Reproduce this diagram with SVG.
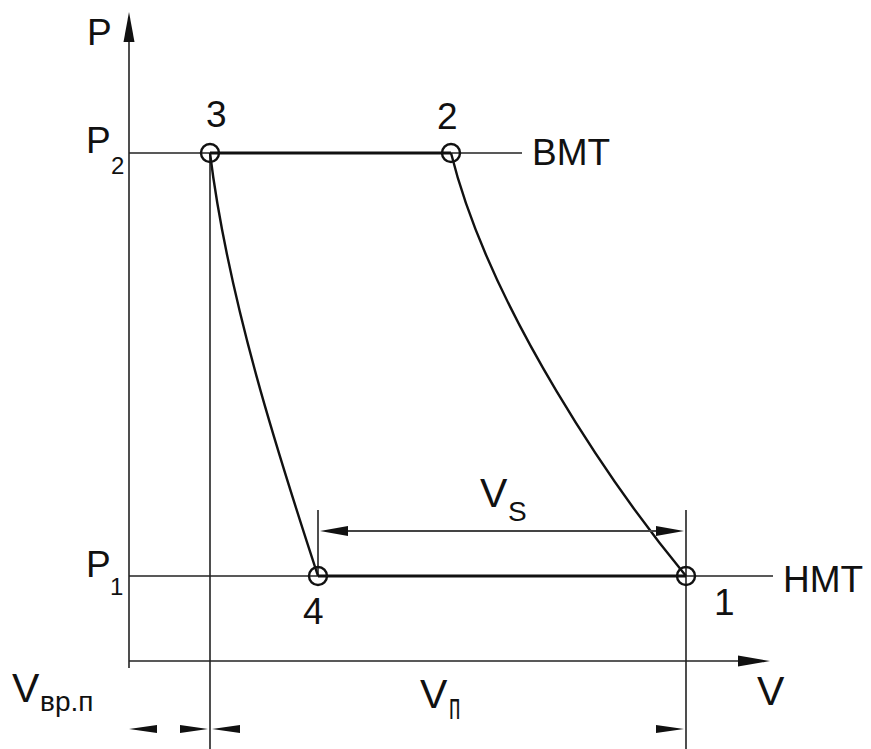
<svg xmlns="http://www.w3.org/2000/svg" width="871" height="749" viewBox="0 0 871 749">
<style>
text{font-family:"Liberation Sans",Arial,sans-serif;fill:#111}
.big{font-size:37px}
.v{font-size:41px}
.sub{font-size:24px}
.thin{stroke:#222;stroke-width:1.6;fill:none}
.thick{stroke:#111;stroke-width:3;fill:none}
.curve{stroke:#111;stroke-width:2.4;fill:none}
.pt{stroke:#111;stroke-width:2.4;fill:none}
.ah{fill:#111}
</style>
<rect width="871" height="749" fill="#fff"/>
<g id="axes">
<line class="thin" x1="129" y1="30" x2="129" y2="668"/>
<polygon class="ah" points="129,12 123.5,42 134.5,42"/>
<line class="thin" x1="129" y1="661" x2="752" y2="661"/>
<polygon class="ah" points="770,661 738,655.5 738,666.5"/>
<text class="big" x="87" y="45">P</text>
<text class="v" x="757" y="705">V</text>
</g>
<g id="levels">
<line class="thin" x1="129" y1="153" x2="522" y2="153"/>
<line class="thin" x1="129" y1="576" x2="773" y2="576"/>
<line class="thin" x1="210" y1="153" x2="210" y2="749"/>
<line class="thin" x1="318" y1="510" x2="318" y2="576"/>
<line class="thin" x1="686" y1="510" x2="686" y2="749"/>
<text class="big" x="86" y="153">P</text><text class="sub" x="111" y="174">2</text>
<text class="big" x="86" y="577">P</text><text class="sub" x="110" y="595">1</text>
<text class="big" x="532" y="165">BMT</text>
<text class="big" x="783" y="592">HMT</text>
</g>
<g id="connectors">
<line class="thick" x1="210" y1="153" x2="451" y2="153"/>
<line class="thick" x1="318" y1="576" x2="686" y2="576"/>
<path class="curve" d="M210,153 C228,300 280,460 318,576"/>
<path class="curve" d="M451,153 C490,310 615,490 686,576"/>
</g>
<g id="point-3"><circle class="pt" cx="210" cy="153" r="9"/><text class="big" x="206" y="127">3</text></g>
<g id="point-2"><circle class="pt" cx="451" cy="153" r="9"/><text class="big" x="437" y="129">2</text></g>
<g id="point-4"><circle class="pt" cx="318" cy="576" r="9"/><text class="big" x="303" y="624">4</text></g>
<g id="point-1"><circle class="pt" cx="686" cy="576" r="9"/><text class="big" x="714" y="615">1</text></g>
<g id="dim-vs">
<line stroke="#444" stroke-width="2" x1="330" y1="531" x2="672" y2="531"/>
<polygon class="ah" points="320,531 348,526 348,536"/>
<polygon class="ah" points="684,531 656,526 656,536"/>
<text class="v" x="480" y="507">V</text><text style="font-size:28px" x="508" y="521">S</text>
</g>
<g id="dim-vvr">
<polygon class="ah" points="129,729 157,725 157,733"/>
<polygon class="ah" points="208,729 180,725 180,733"/>
<text class="v" x="12" y="702">V</text><text style="font-size:28px" x="40" y="711">вр.п</text>
</g>
<g id="dim-vp">
<polygon class="ah" points="212,729 240,725 240,733"/>
<polygon class="ah" points="684,729 656,725 656,733"/>
<text class="v" x="420" y="708">V</text><text style="font-size:28px" transform="translate(449,719) scale(0.75,1.3)">п</text>
</g>
</svg>
